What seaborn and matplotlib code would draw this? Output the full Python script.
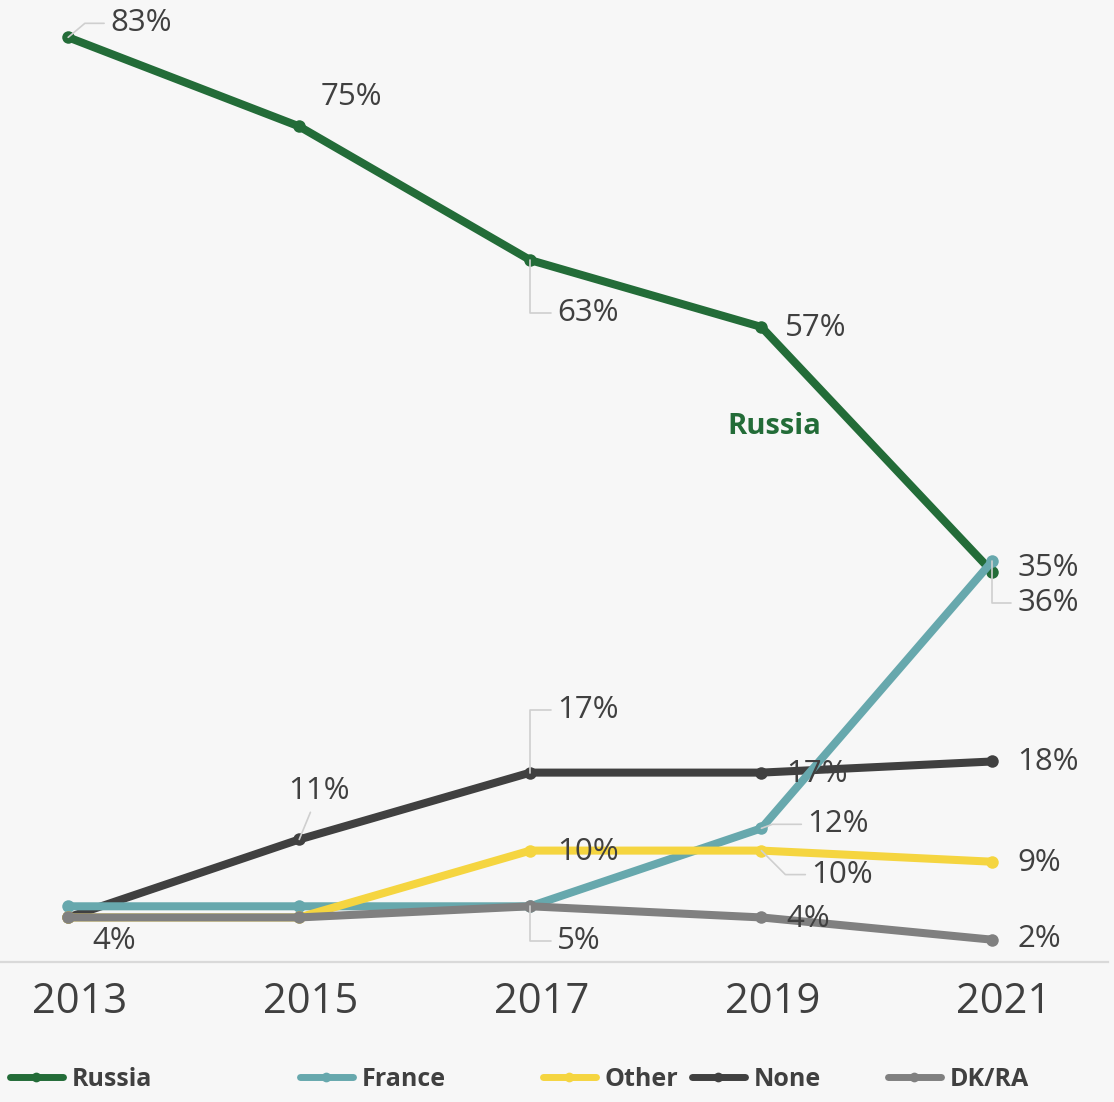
import numpy as np
import pandas as pd
import seaborn as sns
import matplotlib.pyplot as plt
from matplotlib.lines import Line2D
from matplotlib.transforms import ScaledTranslation

# data (percent)
years = [2013, 2015, 2017, 2019, 2021]
russia = [83, 75, 63, 57, 35]
france = [5, 5, 5, 12, 36]
other = [4, 4, 10, 10, 9]
none = [4, 11, 17, 17, 18]
dkra = [4, 4, 5, 4, 2]

series = {'Russia': russia, 'France': france, 'Other': other, 'None': none, 'DK/RA': dkra}
colors = {'Russia': '#236c38', 'France': '#67a8ad', 'Other': '#f5d540',
          'None': '#404040', 'DK/RA': '#808080'}
draw_order = ['Russia', 'None', 'France', 'Other', 'DK/RA']
legend_order = ['Russia', 'France', 'Other', 'None', 'DK/RA']

rows = []
for name, vals in series.items():
    for y, v in zip(years, vals):
        rows.append({'year': y, 'value': v, 'series': name})
df = pd.DataFrame(rows)

sns.set_style('white')
plt.rcParams['font.family'] = ['Open Sans', 'DejaVu Sans']

bg = '#f7f7f7'
fig = plt.figure(figsize=(11.14, 11.02), dpi=100, facecolor=bg)
ax = fig.add_axes([0, 1 - 962 / 1102, 1108 / 1114, 962 / 1102])
ax.set_facecolor(bg)

sns.lineplot(data=df, x='year', y='value', hue='series', hue_order=draw_order,
             palette=colors, marker='o', markersize=9, markeredgewidth=0,
             linewidth=5.8, legend=False, ax=ax)

ax.set_xlim(2012.41, 2022.0)
ax.set_ylim(0, 86.35)
ax.set_xticks(years)
ax.set_xticklabels([str(y) for y in years])
ax.set_yticks([])
ax.set_xlabel('')
ax.set_ylabel('')
for s in ['top', 'left', 'right']:
    ax.spines[s].set_visible(False)
ax.spines['bottom'].set_color('#d9d9d9')
ax.spines['bottom'].set_linewidth(1.6)
ax.tick_params(axis='x', length=0, pad=14, labelsize=30, labelcolor='#404040')
off = ScaledTranslation(11 / 100, 0, fig.dpi_scale_trans)
for lab in ax.get_xticklabels():
    lab.set_transform(lab.get_transform() + off)

# data labels: (series, year index) -> offset in pixels, leader style
labels = [
    ('Russia', 0, (42, 14), 'angle,angleA=0,angleB=40'),
    ('Russia', 1, (21, 29), None),
    ('Russia', 2, (27, -53), 'angle,angleA=0,angleB=90'),
    ('Russia', 3, (24, -1), None),
    ('Russia', 4, (25, 4), None),
    ('France', 3, (46, 4), 'angle,angleA=0,angleB=20'),
    ('France', 4, (25, -42), 'angle,angleA=0,angleB=90'),
    ('Other', 2, (27, -1), None),
    ('Other', 3, (50, -24), 'angle,angleA=0,angleB=-45'),
    ('Other', 4, (25, -1), None),
    ('None', 0, (24, -24), None),
    ('None', 1, (-11, 48), 'line'),
    ('None', 2, (27, 63), 'angle,angleA=0,angleB=90'),
    ('None', 3, (25, -1), None),
    ('None', 4, (25, -1), None),
    ('DK/RA', 2, (27, -35), 'angle,angleA=0,angleB=90'),
    ('DK/RA', 3, (25, -2), None),
    ('DK/RA', 4, (25, 1), None),
]
for name, i, (dx, dy), leader in labels:
    v = series[name][i]
    kw = {}
    if leader == 'line':
        kw['arrowprops'] = dict(arrowstyle='-', color='#cfcfcf', lw=1.2,
                                shrinkA=2, shrinkB=0)
    elif leader:
        kw['arrowprops'] = dict(arrowstyle='-', color='#cfcfcf', lw=1.2,
                                shrinkA=2, shrinkB=0, connectionstyle=leader)
    ax.annotate(f'{v}%', xy=(years[i], v), xytext=(dx, dy),
                textcoords='offset pixels', ha='left', va='center',
                fontsize=22.5, color='#404040', zorder=10, **kw)

ax.text(2019.11, 48.1, 'Russia', fontsize=21, fontweight='bold',
        color='#236c38', ha='center', va='center')

# legend entries spread like the original
starts = {'Russia': 10, 'France': 300, 'Other': 543, 'None': 692, 'DK/RA': 888}
for name in legend_order:
    h = Line2D([0], [0], color=colors[name], lw=5, marker='o', markersize=7,
               markeredgewidth=0)
    fig.legend(handles=[h], labels=[name], loc='center left',
               bbox_to_anchor=(starts[name] / 1114, 1 - 1079 / 1102),
               frameon=False, borderpad=0, borderaxespad=0, handlelength=2.1,
               handletextpad=0.35, prop={'size': 18, 'weight': 'bold'},
               labelcolor='#404040')

fig.savefig('out.png', dpi=100, facecolor=bg)
